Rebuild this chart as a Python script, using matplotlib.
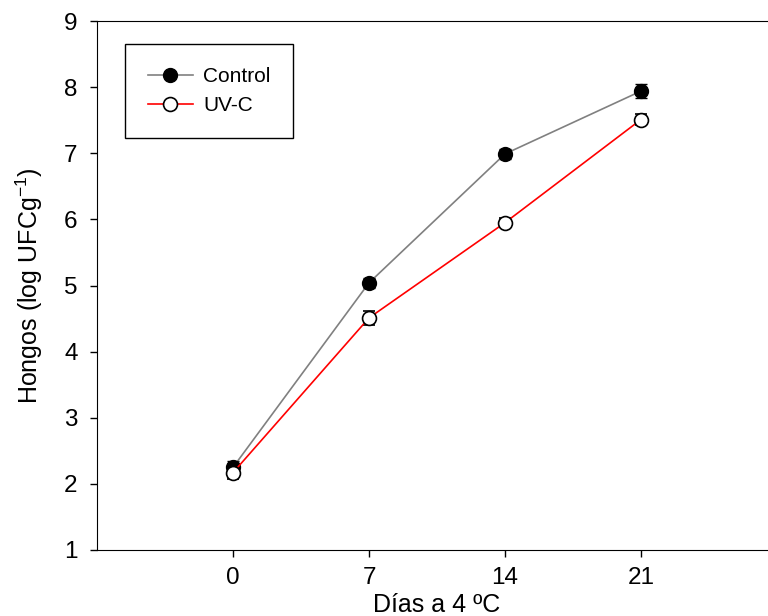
import matplotlib.pyplot as plt

plt.rcParams['font.family'] = ['Liberation Sans', 'DejaVu Sans']
plt.rcParams['mathtext.default'] = 'regular'

# días de almacenamiento y recuentos de hongos
dias = [0, 7, 14, 21]
control = [2.25, 5.04, 6.99, 7.94]
control_err = [0.10, 0.08, 0.08, 0.11]
uvc = [2.17, 4.51, 5.95, 7.51]
uvc_err = [0.10, 0.11, 0.07, 0.09]

fig = plt.figure(figsize=(7.68, 6.16), dpi=100)
ax = fig.add_axes([97 / 768, 1 - 550 / 616, 680 / 768, 529 / 616])

c1 = ax.errorbar(dias, control, yerr=control_err, color='gray', lw=1.2,
                 marker='o', ms=10, mfc='black', mec='black', ecolor='black',
                 elinewidth=1, capsize=4, label='Control')
c2 = ax.errorbar(dias, uvc, yerr=uvc_err, color='red', lw=1.2,
                 marker='o', ms=10, mfc='white', mec='black', mew=1.2,
                 ecolor='black', elinewidth=1, capsize=4, label='UV-C')

ax.set_xlim(-7, 28)
ax.set_ylim(1, 9)
ax.set_xticks(dias)
ax.set_yticks(range(1, 10))
ax.tick_params(labelsize=17.5, direction='out', length=5, width=1)
ax.tick_params(axis='y', pad=9)
ax.tick_params(axis='x', pad=7)
ax.spines['right'].set_visible(False)

ax.set_xlabel('Días a 4 ºC', fontsize=18, labelpad=3)
ax.set_ylabel('Hongos (log UFCg$^{-1}$)', fontsize=18, labelpad=14)

# leyenda sin barras de error
leg = ax.legend([c1[0], c2[0]], ['Control', 'UV-C'], loc='upper left',
                bbox_to_anchor=(125 / 768, 1 - 44 / 616),
                bbox_transform=fig.transFigure, borderaxespad=0,
                fontsize=15, fancybox=False, framealpha=1, edgecolor='black',
                borderpad=1.1, handlelength=2.15, handletextpad=0.5,
                labelspacing=0.48)
leg.get_frame().set_linewidth(1)

fig.savefig('out.png', dpi=100)
